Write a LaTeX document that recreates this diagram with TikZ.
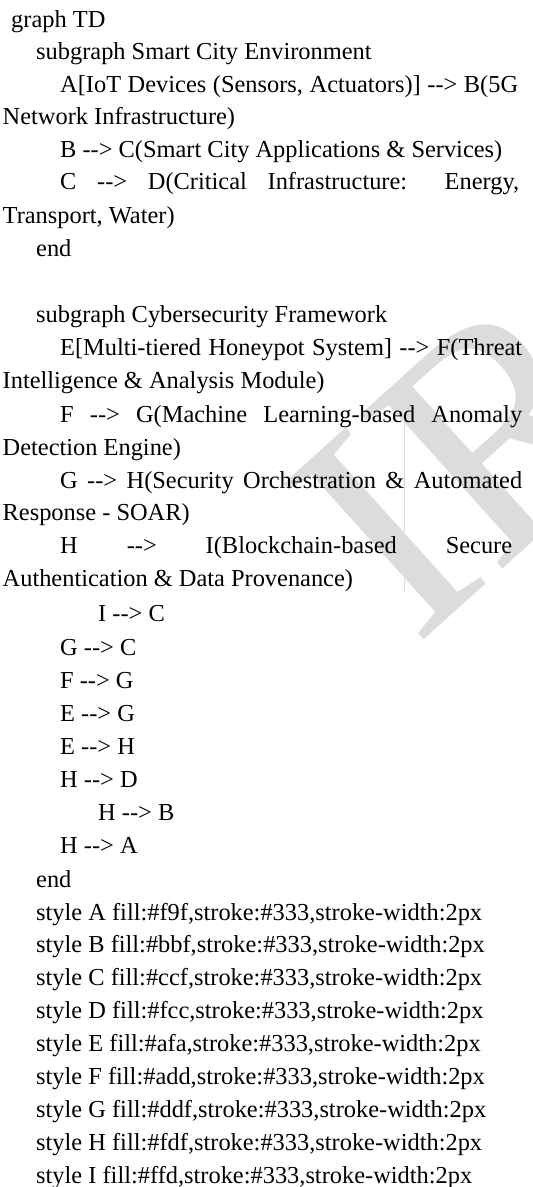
\documentclass[tikz,border=0pt]{standalone}
\usepackage{fontspec}
\setmainfont{Liberation Serif}[Ligatures={TeXOff,NoCommon}]
\definecolor{codeink}{HTML}{000000}
\definecolor{markgray}{HTML}{DCDCDC}

\tikzset{
  codeline/.style={anchor=base west, inner sep=0pt, text=codeink},
  wmark/.style={anchor=base west, inner sep=0pt, text=markgray, rotate=42,
                font=\fontsize{320}{320}\selectfont},
}
% one justified line of the listing, stretched to #1 pt
\newcommand{\jline}[2]{\makebox[#1pt][s]{#2}}

\begin{document}
\begin{tikzpicture}[x=1pt, y=-1pt,
                    every node/.style={font=\fontsize{24.4}{32}\selectfont}]
  \useasboundingbox (0,0) rectangle (533,1187);

  %% ---- watermark behind the text ----
  \begin{scope}
    \clip (0,0) rectangle (533,1187);
    \node[wmark] (mark) at (415,648) {IRJET};
    \draw[markgray, line width=0.7pt] (404,405) -- (404,592);
  \end{scope}

  %% ---- first subgraph ----
  \node[codeline] (graph) at (11,27) {graph TD};
  \node[codeline] (subcity) at (36,59) {subgraph Smart City Environment};
  \node[codeline] (lineab) at (60,92) {\jline{458}{A[IoT Devices (Sensors, Actuators)] --> B(5G}};
  \node[codeline] (lineabx) at (2.5,124) {Network Infrastructure)};
  \node[codeline] (linebc) at (60,157) {B --> C(Smart City Applications \& Services)};
  \node[codeline] (linecd) at (60,189) {\jline{459}{C --> D(Critical Infrastructure: Energy,}};
  \node[codeline] (linecdx) at (2.5,223) {Transport, Water)};
  \node[codeline] (endcity) at (36,256) {end};

  %% ---- second subgraph ----
  \node[codeline] (subsec) at (36,322) {subgraph Cybersecurity Framework};
  \node[codeline] (lineef) at (60,355) {\jline{462}{E[Multi-tiered Honeypot System] --> F(Threat}};
  \node[codeline] (lineefx) at (2.5,388) {Intelligence \& Analysis Module)};
  \node[codeline] (linefg) at (60,422) {\jline{462}{F --> G(Machine Learning-based Anomaly}};
  \node[codeline] (linefgx) at (2.5,455) {Detection Engine)};
  \node[codeline] (linegh) at (60,488) {\jline{462}{G --> H(Security Orchestration \& Automated}};
  \node[codeline] (lineghx) at (2.5,520) {Response - SOAR)};
  \node[codeline] (linehi) at (60,553) {\jline{452}{H --> I(Blockchain-based Secure}};
  \node[codeline] (linehix) at (2.5,586) {Authentication \& Data Provenance)};

  %% ---- extra links ----
  \node[codeline] (linkic) at (98,621) {I --> C};
  \node[codeline] (linkgc) at (60,655) {G --> C};
  \node[codeline] (linkfg) at (60,688) {F --> G};
  \node[codeline] (linkeg) at (60,721) {E --> G};
  \node[codeline] (linkeh) at (60,754) {E --> H};
  \node[codeline] (linkhd) at (60,787) {H --> D};
  \node[codeline] (linkhb) at (98,820) {H --> B};
  \node[codeline] (linkha) at (60,853) {H --> A};
  \node[codeline] (endsec) at (36,887) {end};

  %% ---- node styles ----
  \foreach \nd/\fc [count=\i from 0] in {A/f9f, B/bbf, C/ccf, D/fcc, E/afa,
                                         F/add, G/ddf, H/fdf, I/ffd}
    \node[codeline] (style\nd) at (36,{920+32.9*\i})
      {style \nd{} fill:\#\fc,stroke:\#333,stroke-width:2px};

\end{tikzpicture}
\end{document}
